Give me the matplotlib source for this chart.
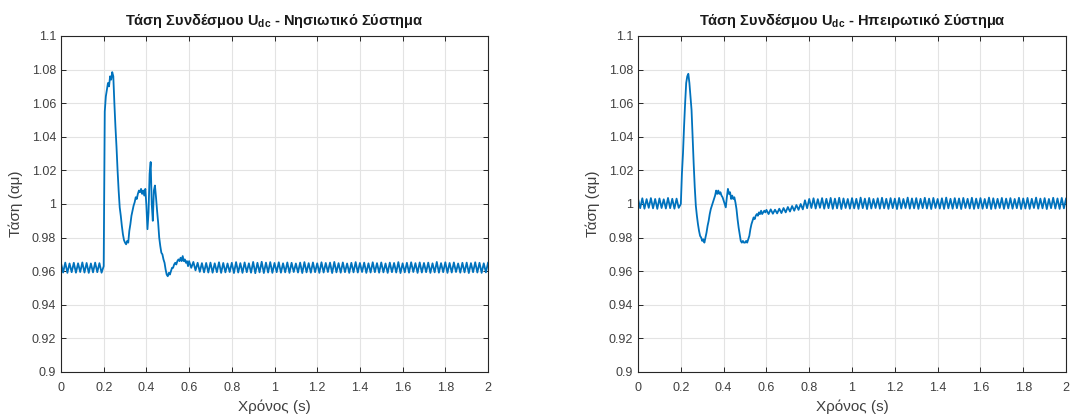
import numpy as np
import matplotlib
matplotlib.use("Agg")
import matplotlib.pyplot as plt

plt.rcParams['font.family'] = ['Liberation Sans', 'DejaVu Sans']
plt.rcParams['mathtext.fontset'] = 'custom'
plt.rcParams['mathtext.rm'] = 'Liberation Sans'
plt.rcParams['mathtext.bf'] = 'Liberation Sans:bold'

# ---------------- data ----------------
titles = ['Τάση Συνδέσμου U$_{\\mathbf{dc}}$ - Νησιωτικό Σύστημα',
          'Τάση Συνδέσμου U$_{\\mathbf{dc}}$ - Ηπειρωτικό Σύστημα']
xlabel = 'Χρόνος (s)'
ylabel = 'Τάση (αμ)'
xticks = [0, 0.2, 0.4, 0.6, 0.8, 1, 1.2, 1.4, 1.6, 1.8, 2]
xticklabels = ['0', '0.2', '0.4', '0.6', '0.8', '1', '1.2', '1.4', '1.6', '1.8', '2']
yticks = [0.9, 0.92, 0.94, 0.96, 0.98, 1.0, 1.02, 1.04, 1.06, 1.08, 1.1]
yticklabels = ['0.9', '0.92', '0.94', '0.96', '0.98', '1', '1.02', '1.04', '1.06', '1.08', '1.1']

# sample segments: (start time, step)
seg_pre = (0.0, 0.01)
seg_trans = (0.2, 0.005)
seg_post = (0.6, 0.01)

left_pre = [0.9648, 0.9592, 0.9651, 0.9590, 0.9646, 0.9594, 0.9650, 0.9591, 0.9647, 0.9595,
            0.9652, 0.9592, 0.9649, 0.9590, 0.9646, 0.9593, 0.9651, 0.9594, 0.9648, 0.9591]
left_trans = [0.9630, 1.0550, 1.0640, 1.0680, 1.0720, 1.0700, 1.0760, 1.0740, 1.0785, 1.0760,
              1.0600, 1.0460, 1.0340, 1.0200, 1.0080, 0.9980, 0.9930, 0.9870, 0.9820, 0.9785,
              0.9770, 0.9760, 0.9780, 0.9770, 0.9840, 0.9880, 0.9930, 0.9960, 0.9990, 1.0010,
              1.0040, 1.0030, 1.0060, 1.0080, 1.0070, 1.0090, 1.0060, 1.0080, 1.0050, 1.0090,
              0.9990, 0.9850, 0.9950, 1.0180, 1.0250, 1.0000, 0.9900, 1.0080, 1.0110, 1.0040,
              0.9960, 0.9890, 0.9800, 0.9750, 0.9710, 0.9700, 0.9670, 0.9650, 0.9610, 0.9580,
              0.9570, 0.9590, 0.9580, 0.9600, 0.9620, 0.9620, 0.9640, 0.9650, 0.9640, 0.9660,
              0.9670, 0.9660, 0.9680, 0.9660, 0.9690, 0.9660, 0.9670, 0.9650, 0.9660, 0.9630]
left_post = [0.9660, 0.9620, 0.9655, 0.9605, 0.9650, 0.9596, 0.9648, 0.9593, 0.9649, 0.9592,
             0.9651, 0.9591, 0.9647, 0.9594, 0.9653, 0.9590, 0.9649, 0.9593, 0.9646, 0.9595,
             0.9650, 0.9589, 0.9654, 0.9592, 0.9648, 0.9590, 0.9652, 0.9594, 0.9647, 0.9591,
             0.9655, 0.9588, 0.9650, 0.9593, 0.9656, 0.9589, 0.9651, 0.9592, 0.9654, 0.9590,
             0.9649, 0.9594, 0.9653, 0.9591, 0.9647, 0.9593, 0.9652, 0.9590, 0.9650, 0.9595,
             0.9646, 0.9592, 0.9651, 0.9589, 0.9654, 0.9593, 0.9648, 0.9591, 0.9652, 0.9594,
             0.9647, 0.9590, 0.9653, 0.9592, 0.9649, 0.9595, 0.9651, 0.9589, 0.9655, 0.9593,
             0.9648, 0.9591, 0.9652, 0.9594, 0.9646, 0.9590, 0.9650, 0.9593, 0.9654, 0.9592,
             0.9649, 0.9595, 0.9651, 0.9590, 0.9647, 0.9592, 0.9653, 0.9594, 0.9648, 0.9591,
             0.9652, 0.9593, 0.9646, 0.9590, 0.9651, 0.9594, 0.9649, 0.9592, 0.9654, 0.9589,
             0.9647, 0.9593, 0.9650, 0.9591, 0.9653, 0.9595, 0.9648, 0.9590, 0.9652, 0.9592,
             0.9649, 0.9594, 0.9651, 0.9590, 0.9647, 0.9593, 0.9655, 0.9591, 0.9648, 0.9594,
             0.9653, 0.9590, 0.9649, 0.9592, 0.9652, 0.9595, 0.9646, 0.9591, 0.9650, 0.9593,
             0.9651, 0.9589, 0.9648, 0.9594, 0.9653, 0.9592, 0.9650, 0.9590, 0.9647, 0.9593,
             0.9650]

right_pre = [1.0031, 0.9975, 1.0034, 0.9972, 1.0029, 0.9977, 1.0035, 0.9974, 1.0030, 0.9971,
             1.0033, 0.9976, 1.0028, 0.9973, 1.0036, 0.9975, 1.0031, 0.9972, 1.0032, 0.9977]
right_trans = [1.0000, 1.0180, 1.0300, 1.0460, 1.0600, 1.0720, 1.0760, 1.0775, 1.0720, 1.0640,
               1.0560, 1.0400, 1.0240, 1.0100, 0.9990, 0.9930, 0.9880, 0.9840, 0.9810, 0.9800,
               0.9780, 0.9790, 0.9770, 0.9800, 0.9830, 0.9870, 0.9900, 0.9940, 0.9970, 0.9990,
               1.0010, 1.0030, 1.0050, 1.0080, 1.0060, 1.0080, 1.0060, 1.0070, 1.0050, 1.0040,
               1.0020, 1.0000, 0.9980, 1.0040, 1.0090, 1.0060, 1.0070, 1.0030, 1.0050, 1.0030,
               1.0040, 1.0010, 0.9970, 0.9910, 0.9860, 0.9820, 0.9780, 0.9770, 0.9780, 0.9770,
               0.9770, 0.9780, 0.9770, 0.9790, 0.9810, 0.9850, 0.9880, 0.9900, 0.9920, 0.9910,
               0.9930, 0.9940, 0.9930, 0.9950, 0.9940, 0.9960, 0.9940, 0.9950, 0.9960, 0.9950]
right_post = [0.9965, 0.9940, 0.9968, 0.9942, 0.9966, 0.9944, 0.9972, 0.9946, 0.9976, 0.9950,
              0.9982, 0.9955, 0.9988, 0.9960, 0.9994, 0.9965, 1.0000, 0.9968, 1.0022, 0.9975,
              1.0030, 0.9976, 1.0034, 0.9973, 1.0029, 0.9977, 1.0035, 0.9972, 1.0031, 0.9975,
              1.0036, 0.9971, 1.0032, 0.9974, 1.0037, 0.9970, 1.0033, 0.9976, 1.0030, 0.9972,
              1.0035, 0.9974, 1.0031, 0.9971, 1.0038, 0.9975, 1.0032, 0.9970, 1.0036, 0.9973,
              1.0030, 0.9976, 1.0034, 0.9972, 1.0037, 0.9974, 1.0031, 0.9971, 1.0035, 0.9975,
              1.0032, 0.9970, 1.0036, 0.9973, 1.0030, 0.9976, 1.0038, 0.9972, 1.0033, 0.9974,
              1.0035, 0.9971, 1.0031, 0.9975, 1.0037, 0.9973, 1.0032, 0.9970, 1.0036, 0.9976,
              1.0030, 0.9973, 1.0034, 0.9971, 1.0038, 0.9974, 1.0031, 0.9972, 1.0035, 0.9975,
              1.0033, 0.9970, 1.0036, 0.9976, 1.0031, 0.9973, 1.0037, 0.9971, 1.0032, 0.9974,
              1.0035, 0.9972, 1.0030, 0.9975, 1.0038, 0.9970, 1.0034, 0.9973, 1.0031, 0.9976,
              1.0036, 0.9971, 1.0032, 0.9974, 1.0035, 0.9972, 1.0030, 0.9975, 1.0037, 0.9970,
              1.0033, 0.9973, 1.0036, 0.9971, 1.0031, 0.9976, 1.0038, 0.9972, 1.0032, 0.9974,
              1.0035, 0.9970, 1.0030, 0.9975, 1.0037, 0.9973, 1.0033, 0.9971, 1.0036, 0.9974,
              1.0032]


def build(segments):
    ts, vs = [], []
    for (start, step), vals in segments:
        ts.append(start + step * np.arange(len(vals)))
        vs.append(np.asarray(vals))
    return np.concatenate(ts), np.concatenate(vs)


series = [
    build([(seg_pre, left_pre), (seg_trans, left_trans), (seg_post, left_post)]),
    build([(seg_pre, right_pre), (seg_trans, right_trans), (seg_post, right_post)]),
]

# ---------------- figure ----------------
fig = plt.figure(figsize=(10.70, 4.19), dpi=100)
positions = [[0.0570, 0.1122, 0.3991, 0.8019],
             [0.5963, 0.1122, 0.4000, 0.8019]]

line_color = '#0072BD'
text_color = '#404040'

for pos, title, (t, v) in zip(positions, titles, series):
    ax = fig.add_axes(pos)
    ax.plot(t, v, color=line_color, lw=1.3)
    ax.set_xlim(0, 2)
    ax.set_ylim(0.9, 1.1)
    ax.set_xticks(xticks)
    ax.set_xticklabels(xticklabels)
    ax.set_yticks(yticks)
    ax.set_yticklabels(yticklabels)
    ax.grid(True, color='#e3e3e3', lw=0.8)
    ax.set_axisbelow(True)
    for s in ax.spines.values():
        s.set_color('#262626')
        s.set_linewidth(0.8)
    ax.tick_params(direction='in', length=3.5, width=0.7, top=True, right=True,
                   colors='#262626', labelcolor=text_color, labelsize=9)
    ax.tick_params(axis='x', pad=7)
    ax.set_title(title, fontsize=10.5, fontweight='bold', color='#1a1a1a', pad=8)
    ax.set_xlabel(xlabel, fontsize=11, color=text_color, labelpad=4)
    ax.set_ylabel(ylabel, fontsize=11, color=text_color, labelpad=6)

fig.savefig('out.png', dpi=100)
